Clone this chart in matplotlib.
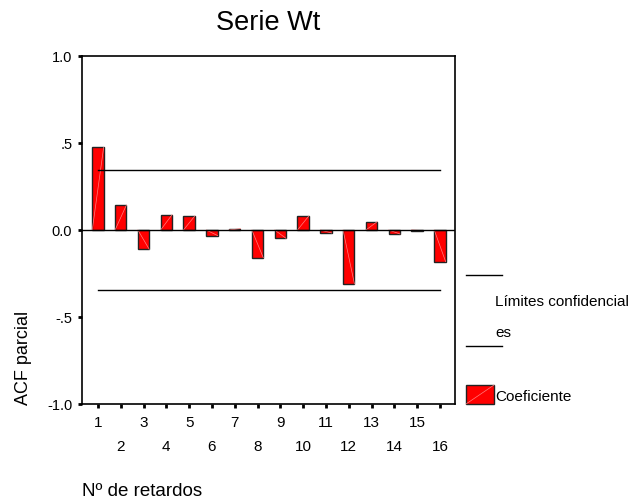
import matplotlib
matplotlib.use("Agg")
import matplotlib.pyplot as plt
from matplotlib.patches import Rectangle
from matplotlib.lines import Line2D

plt.rcParams['font.family'] = ['Liberation Sans', 'DejaVu Sans']

lags = list(range(1, 17))
pacf = [0.475, 0.144, -0.111, 0.088, 0.081, -0.032, 0.008, -0.159,
        -0.048, 0.081, -0.017, -0.310, 0.048, -0.023, -0.003, -0.182]
conf = 0.347
yticks = [-1.0, -0.5, 0.0, 0.5, 1.0]
yticklabels = ['-1.0', '-.5', '0.0', '.5', '1.0']

fig = plt.figure(figsize=(6.3, 5.02), dpi=100)
W, H = 630, 502
ax = fig.add_axes([82 / W, 1 - 405 / H, (455 - 82) / W, (405 - 57) / H])

width = 0.5
ax.bar(lags, pacf, width=width, color='#ff0000', edgecolor='#222222', linewidth=1.0, zorder=3)
for x, v in zip(lags, pacf):
    ax.plot([x - width / 2, x + width / 2], [0, v], color='#ff8080', lw=0.5, zorder=4)

ax.axhline(0, color='black', lw=1.0, zorder=4)
ax.plot([lags[0], lags[-1]], [conf, conf], color='black', lw=1.0, zorder=5)
ax.plot([lags[0], lags[-1]], [-conf, -conf], color='black', lw=1.0, zorder=5)

ax.set_xlim(0.3, 16.66)
ax.set_ylim(-1.0, 1.0)
ax.set_yticks(yticks)
ax.set_yticklabels(yticklabels, fontsize=10.5)
ax.set_xticks(lags)
ax.set_xticklabels([str(l) if l % 2 == 1 else '\n' + str(l) for l in lags], fontsize=11, linespacing=1.9)
ax.tick_params(axis='both', direction='out', length=3, width=2, color='black')
ax.tick_params(axis='y', pad=4)
ax.tick_params(axis='x', pad=5)
for s in ax.spines.values():
    s.set_linewidth(1.2)

fig.text(268 / W, 1 - 23 / H, 'Serie Wt', ha='center', va='center', fontsize=19.5)
fig.text(24 / W, 1 - 405 / H, 'ACF parcial', rotation=90, ha='center', va='bottom', fontsize=13)
fig.text(82 / W, 1 - 492 / H, 'Nº de retardos', ha='left', va='center', fontsize=13.5)

# Legend
fig.add_artist(Line2D([466 / W, 502 / W], [1 - 276 / H, 1 - 276 / H], color='black', lw=1.0))
fig.text(495 / W, 1 - 302 / H, 'Límites confidencial', ha='left', va='center', fontsize=11)
fig.text(495 / W, 1 - 333 / H, 'es', ha='left', va='center', fontsize=11)
fig.add_artist(Line2D([466 / W, 502 / W], [1 - 347 / H, 1 - 347 / H], color='black', lw=1.0))
fig.add_artist(Rectangle((466 / W, 1 - 405 / H), 28 / W, 19 / H, facecolor='#ff0000',
                         edgecolor='#222222', lw=1.0, transform=fig.transFigure))
fig.add_artist(Line2D([466 / W, 494 / W], [1 - 405 / H, 1 - 386 / H], color='#ff8080', lw=0.5))
fig.text(495 / W, 1 - 397 / H, 'Coeficiente', ha='left', va='center', fontsize=11)

fig.savefig('out.png', dpi=100)
